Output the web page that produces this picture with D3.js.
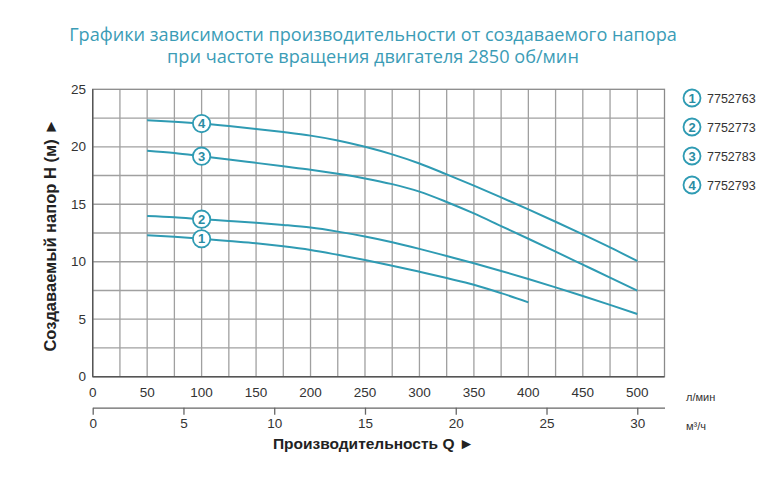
<!DOCTYPE html>
<html><head><meta charset="utf-8">
<script src="https://cdn.jsdelivr.net/npm/d3@7/dist/d3.min.js"></script>
<style>body{margin:0;background:#fff}svg{display:block}</style>
</head><body>
<svg id="c" width="774" height="488"></svg>
<script>
const titleLines = ["Графики зависимости производительности от создаваемого напора", "при частоте вращения двигателя 2850 об/мин"];
const models = ["7752763", "7752773", "7752783", "7752793"];
const flowLpm = [50,75,100,125,150,175,200,225,250,275,300,325,350,375,400,425,450,475,500];
const head1 = [12.3,12.17,12.0,11.8,11.6,11.34,11.02,10.6,10.15,9.66,9.13,8.58,8.0,7.27,6.47];
const head2 = [13.97,13.86,13.7,13.55,13.39,13.2,12.97,12.62,12.2,11.7,11.12,10.5,9.87,9.2,8.5,7.77,7.02,6.25,5.45];
const head3 = [19.65,19.45,19.18,18.9,18.6,18.3,18.0,17.65,17.25,16.75,16.1,15.2,14.2,13.1,12.0,10.88,9.75,8.62,7.48];
const head4 = [22.3,22.18,22.02,21.8,21.55,21.28,20.97,20.55,20.0,19.34,18.55,17.6,16.62,15.6,14.55,13.48,12.38,11.25,10.06];
const lpmTicks = [0,50,100,150,200,250,300,350,400,450,500];
const m3hTicks = [0,5,10,15,20,25,30];
const headTicks = [0,5,10,15,20,25];
const markerFlow = 100;

const teal = "#2f9bb3";
const svg = d3.select("#c");
const x = d3.scaleLinear().domain([0,525]).range([92.7,664.5]);
const xm = d3.scaleLinear().domain([0,31.5]).range([92.7,664.5]);
const y = d3.scaleLinear().domain([0,25]).range([376.7,89.3]);

// title
const tg = svg.append("g");
[41,63].forEach((yy,i)=>{
  tg.append("text").attr("x",373).attr("y",yy).attr("text-anchor","middle")
    .attr("font-family","Open Sans").attr("font-size",18).attr("fill","#3b9cb6")
    .text(titleLines[i]);
});
{
  const t = tg.select("text").node();
  const w = t.getComputedTextLength();
  const fs = 18*608/w;
  tg.selectAll("text").attr("font-size",fs);
}

// grid
const grid = svg.append("g");
grid.selectAll("line.v").data(d3.range(25,525,25)).join("line")
  .attr("x1",d=>x(d)).attr("x2",d=>x(d)).attr("y1",y(0)).attr("y2",y(25))
  .attr("stroke","#a0a0a0").attr("stroke-width",1.3);
grid.selectAll("line.h").data(d3.range(2.5,25,2.5)).join("line")
  .attr("x1",x(0)).attr("x2",x(525)).attr("y1",d=>y(d)).attr("y2",d=>y(d))
  .attr("stroke","#a0a0a0").attr("stroke-width",1.3);
svg.append("rect").attr("x",x(0)).attr("y",y(25)).attr("width",x(525)-x(0)).attr("height",y(0)-y(25))
  .attr("fill","none").attr("stroke","#8a8a8a").attr("stroke-width",1.3);
svg.append("line").attr("x1",x(0)).attr("x2",x(525)).attr("y1",y(0)).attr("y2",y(0)).attr("stroke","#555").attr("stroke-width",1.4);
svg.append("line").attr("x1",x(0)).attr("x2",x(0)).attr("y1",y(0)).attr("y2",y(25)).attr("stroke","#555").attr("stroke-width",1.4);

const font = "Liberation Sans, Arial, sans-serif";
svg.append("g").selectAll("text").data(headTicks).join("text")
  .attr("x",86).attr("y",d=>y(d)+4.5).attr("text-anchor","end")
  .attr("font-family",font).attr("font-size",13.5).attr("fill","#333").text(d=>d);
svg.append("g").selectAll("text").data(lpmTicks).join("text")
  .attr("x",d=>x(d)).attr("y",397).attr("text-anchor","middle")
  .attr("font-family",font).attr("font-size",13.5).attr("fill","#333").text(d=>d);
const ax2 = svg.append("g").attr("transform","translate(0,407.7)")
  .call(d3.axisBottom(xm).tickValues(m3hTicks).tickSize(7).tickSizeOuter(0).tickPadding(4));
ax2.select(".domain").attr("stroke","#666").attr("stroke-width",1.3);
ax2.selectAll(".tick line").attr("stroke","#666").attr("stroke-width",1.3);
ax2.selectAll(".tick text").attr("font-family",font).attr("font-size",13.5).attr("fill","#333");

svg.append("text").attr("x",686).attr("y",401).attr("font-family",font).attr("font-size",11).attr("fill","#333").text("л/мин");
svg.append("text").attr("x",686).attr("y",430).attr("font-family",font).attr("font-size",11).attr("fill","#333").text("м³/ч");

svg.append("text").attr("x",373.5).attr("y",449).attr("text-anchor","middle")
  .attr("font-family",font).attr("font-size",15.5).attr("font-weight","bold").attr("fill","#222")
  .text("Производительность Q ►");
svg.append("text").attr("transform","translate(55.5,235) rotate(-90)").attr("text-anchor","middle")
  .attr("font-family",font).attr("font-size",16.5).attr("font-weight","bold").attr("fill","#222")
  .text("Создаваемый напор H (м) ►");

const series = [head1,head2,head3,head4];
const line = d3.line().x(d=>x(d[0])).y(d=>y(d[1])).curve(d3.curveMonotoneX);
series.forEach((s,i)=>{
  const pts = s.map((v,j)=>[flowLpm[j],v]);
  svg.append("path").attr("d",line(pts)).attr("fill","none").attr("stroke",teal).attr("stroke-width",2);
  const mv = s[flowLpm.indexOf(markerFlow)];
  const g = svg.append("g").attr("transform",`translate(${x(markerFlow)},${y(mv)})`);
  g.append("circle").attr("r",8.7).attr("fill","#fff").attr("stroke",teal).attr("stroke-width",1.8);
  g.append("text").attr("y",4.6).attr("text-anchor","middle").attr("font-family",font)
    .attr("font-size",13).attr("font-weight","bold").attr("fill","#2a8ca3").text(i+1);
});

models.forEach((m,i)=>{
  const g = svg.append("g").attr("transform",`translate(692,${98+i*29})`);
  g.append("circle").attr("r",8.5).attr("fill","#fff").attr("stroke",teal).attr("stroke-width",1.8);
  g.append("text").attr("y",4.6).attr("text-anchor","middle").attr("font-family",font)
    .attr("font-size",13).attr("font-weight","bold").attr("fill","#2a8ca3").text(i+1);
  g.append("text").attr("x",15).attr("y",4.6).attr("font-family",font)
    .attr("font-size",12.5).attr("fill","#333").text(m);
});
</script>
</body></html>
